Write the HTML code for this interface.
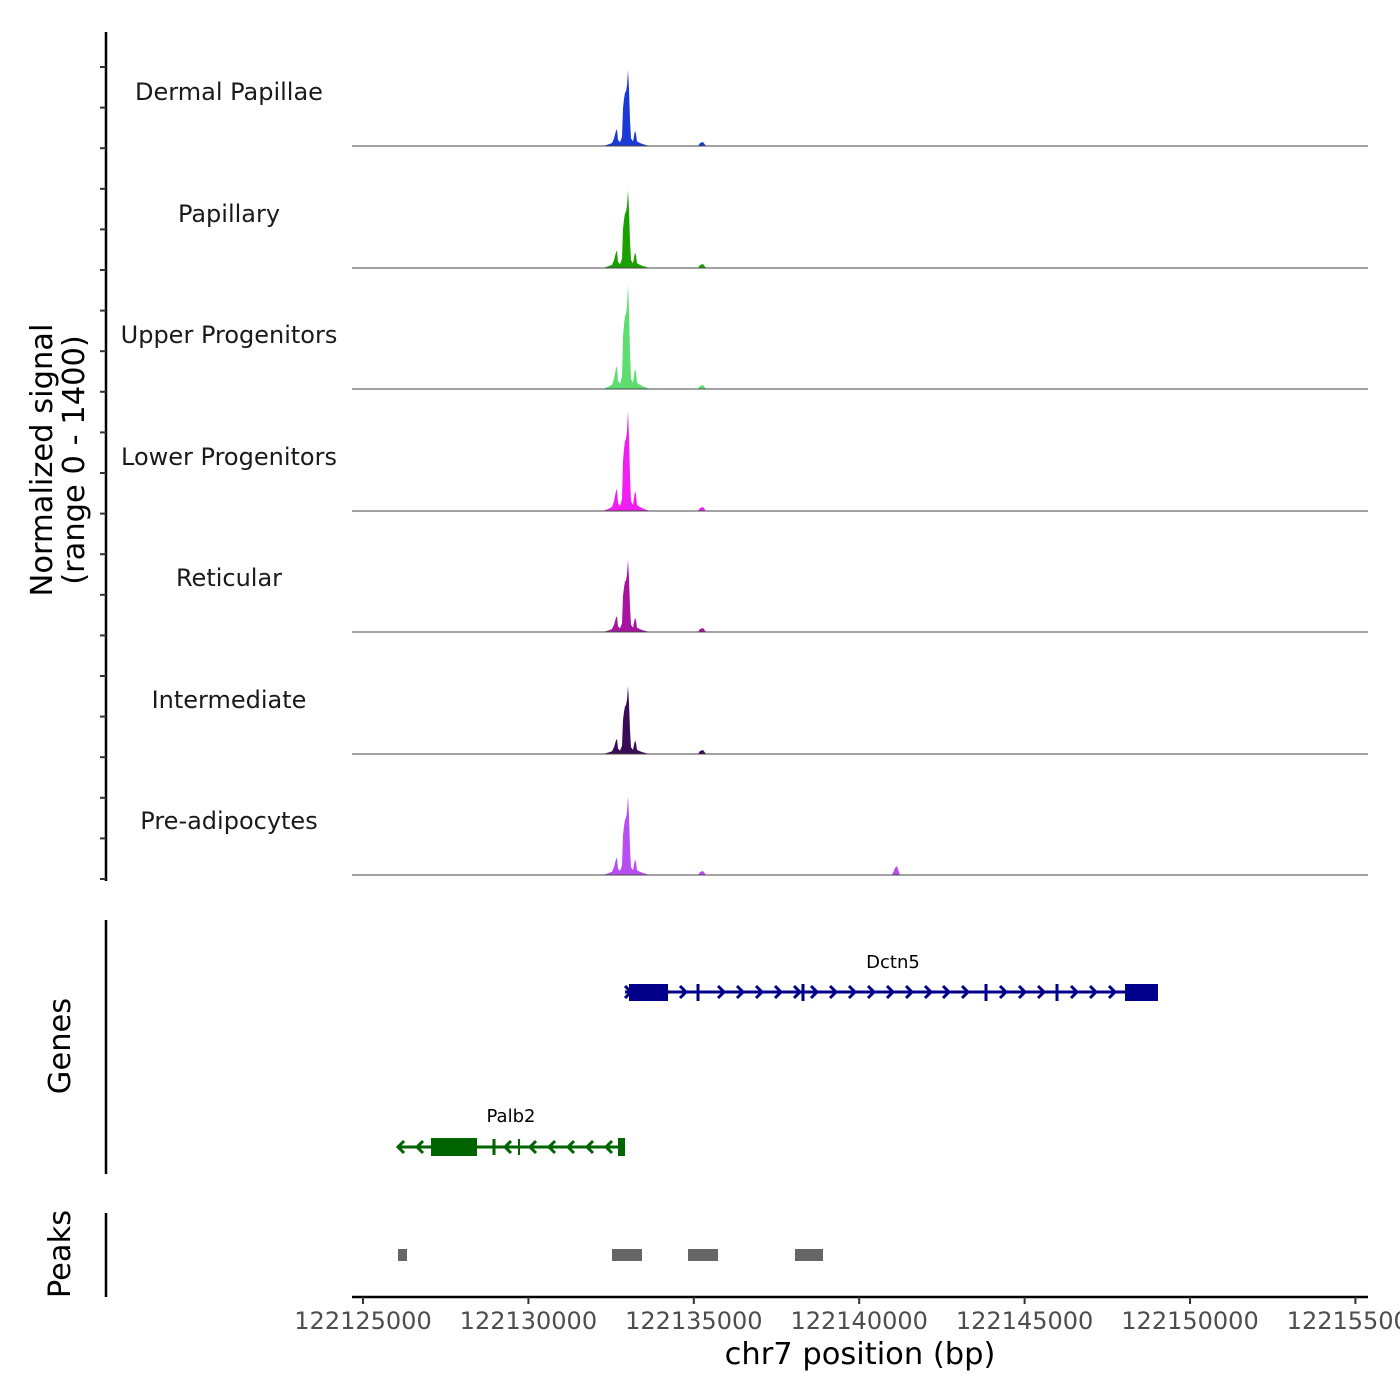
<!DOCTYPE html>
<html><head><meta charset="utf-8"><style>
body{margin:0;background:#fff}
svg{display:block}
text{font-family:"DejaVu Sans","Liberation Sans",sans-serif}
</style></head><body>
<svg id="s" width="1400" height="1400" xmlns="http://www.w3.org/2000/svg">
<rect width="1400" height="1400" fill="#fff"/>
<g id="tracks"></g>
<line x1="106" y1="32" x2="106" y2="881" stroke="#000" stroke-width="2.5"/>
<g id="ticks" stroke="#333" stroke-width="2"></g>
<line x1="106" y1="920" x2="106" y2="1174" stroke="#000" stroke-width="2.5"/>
<line x1="106" y1="1213" x2="106" y2="1297" stroke="#000" stroke-width="2.5"/>
<text transform="translate(52,460) rotate(-90)" text-anchor="middle" font-size="30.5">Normalized signal</text>
<text transform="translate(84,460) rotate(-90)" text-anchor="middle" font-size="30.5">(range 0 - 1400)</text>
<text transform="translate(70,1046) rotate(-90)" text-anchor="middle" font-size="30.5">Genes</text>
<text transform="translate(70,1254) rotate(-90)" text-anchor="middle" font-size="30.5">Peaks</text>
<g stroke="#00008b" fill="#00008b">
<line x1="625" y1="992" x2="1158" y2="992" stroke-width="3"/>
<rect x="629" y="984" width="39" height="17" stroke="none"/>
<rect x="1125" y="984" width="33" height="17" stroke="none"/>
<g stroke-width="3"><line x1="698" y1="984" x2="698" y2="1001"/><line x1="803" y1="984" x2="803" y2="1001"/><line x1="986" y1="984" x2="986" y2="1001"/><line x1="1057" y1="984" x2="1057" y2="1001"/></g>
<g id="arrR" fill="none" stroke-width="3"></g>
</g>
<text x="893" y="968" text-anchor="middle" font-size="18">Dctn5</text>
<g stroke="#006400" fill="#006400">
<line x1="398" y1="1147" x2="625" y2="1147" stroke-width="3"/>
<rect x="431" y="1138" width="46" height="18" stroke="none"/>
<rect x="618" y="1138" width="7" height="18" stroke="none"/>
<g stroke-width="3"><line x1="494" y1="1139" x2="494" y2="1155"/><line x1="519" y1="1139" x2="519" y2="1155" stroke-width="2"/></g>
<g id="arrL" fill="none" stroke-width="3"></g>
</g>
<text x="511" y="1122" text-anchor="middle" font-size="18">Palb2</text>
<g fill="#666">
<rect x="398" y="1249" width="9" height="12"/><rect x="612" y="1249" width="30" height="12"/>
<rect x="688" y="1249" width="30" height="12"/><rect x="795" y="1249" width="28" height="12"/>
</g>
<line x1="352" y1="1297" x2="1368" y2="1297" stroke="#000" stroke-width="2.5"/>
<g id="xt"></g>
<text x="860" y="1364" text-anchor="middle" font-size="30.5">chr7 position (bp)</text>
</svg>
<script>
var NS="http://www.w3.org/2000/svg";
function el(p,n,a,t){var e=document.createElementNS(NS,n);for(var k in a)e.setAttribute(k,a[k]);if(t)e.textContent=t;p.appendChild(e);return e;}
var tk=document.getElementById("ticks");
for(var y=67;y<=880;y+=40.6)el(tk,"line",{x1:100,x2:106,y1:y,y2:y});
var xt=document.getElementById("xt");
for(var i=0;i<7;i++){var x=363+i*165.4;el(xt,"line",{x1:x,x2:x,y1:1297,y2:1304,stroke:"#333","stroke-width":2});
el(xt,"text",{x:x,y:1329,"text-anchor":"middle","font-size":24,fill:"#4d4d4d"},String(122125000+i*5000));}
var shape=[[603,0],[608,0.02],[612,0.04],[614,0.1],[616,0.2],[617,0.22],[618,0.08],[620,0.05],[622,0.12],[623,0.5],[624,0.62],[625,0.7],[626,0.72],[627,0.8],[628,1],[629,0.75],[630,0.35],[631,0.1],[633,0.06],[635,0.2],[636,0.16],[637,0.06],[640,0.04],[644,0.02],[650,0]];
var panels=[["Dermal Papillae","#1a3ad8",146,76,0],["Papillary","#1aa000",268,78,0],["Upper Progenitors","#5ede70",389,104,0],["Lower Progenitors","#f01ef0",511,100,0],["Reticular","#a8139f",632,72,0],["Intermediate","#3a0c55",754,68,0],["Pre-adipocytes","#b84df2",875,79,1]];
var tr=document.getElementById("tracks");
panels.forEach(function(p){var b=p[2],h=p[3];
var d="M352,"+b+" L603,"+b;shape.forEach(function(s){d+=" L"+s[0]+","+(b-s[1]*h).toFixed(1);});
d+=" L698,"+b+" L700,"+(b-3)+" L703,"+(b-4)+" L706,"+b;
if(p[4])d+=" L892,"+b+" L895,"+(b-7)+" L897,"+(b-9)+" L900,"+b;
d+=" L1368,"+b+" Z";
el(tr,"path",{d:d,fill:p[1]});
el(tr,"line",{x1:352,x2:1368,y1:b,y2:b,stroke:"#444","stroke-width":1});
el(tr,"text",{x:229,y:b-46,"text-anchor":"middle","font-size":24,fill:"#1a1a1a"},p[0]);});
var ar=document.getElementById("arrR");
[625,680,718,737,756,775,794,811,830,849,868,887,906,925,943,962,1000,1019,1038,1071,1090,1109].forEach(function(x){el(ar,"polyline",{points:(x)+",986 "+(x+6)+",992 "+x+",998"});});
var al=document.getElementById("arrL");
[398,417,505,530,549,568,587,606].forEach(function(x){el(al,"polyline",{points:(x+6)+",1141 "+x+",1147 "+(x+6)+",1153"});});
</script>
</body></html>
